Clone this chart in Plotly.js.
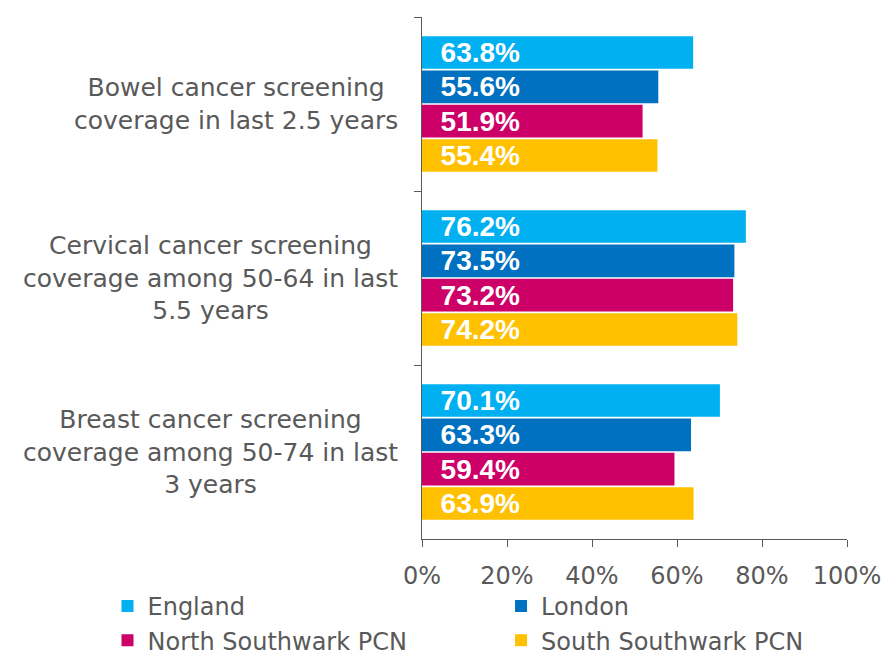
<!DOCTYPE html>
<html>
<head>
<meta charset="utf-8">
<script src="https://cdn.plot.ly/plotly-3.0.1.min.js"></script>
<style>html,body{margin:0;padding:0;background:#fff;}#chart{width:887px;height:659px;}</style>
</head>
<body>
<div id="chart"></div>
<script>
const categories = [
  'Bowel cancer screening<br>coverage in last 2.5 years',
  'Cervical cancer screening<br>coverage among 50-64 in last<br>5.5 years',
  'Breast cancer screening<br>coverage among 50-74 in last<br>3 years'
];
const seriesNames = ['England', 'London', 'North Southwark PCN', 'South Southwark PCN'];
const england = [63.8, 76.2, 70.1];
const london = [55.6, 73.5, 63.3];
const northSouthwark = [51.9, 73.2, 59.4];
const southSouthwark = [55.4, 74.2, 63.9];
const tickValues = [0, 20, 40, 60, 80, 100];
const tickLabels = ['0%', '20%', '40%', '60%', '80%', '100%'];

const colors = ['#00B0F0', '#0070C0', '#CC0066', '#FFC000'];
const seriesValues = [england, london, northSouthwark, southSouthwark];
const legendIds = ['legend', 'legend2', 'legend', 'legend2'];
const FONT = '"DejaVu Sans", "Liberation Sans", Arial, sans-serif';
const BAR_FONT = '"Liberation Sans", Arial, sans-serif';
const GREY = '#595959';

const traces = seriesValues.map((vals, i) => ({
  type: 'bar',
  orientation: 'h',
  name: seriesNames[i],
  x: vals,
  y: categories,
  marker: {color: colors[i]},
  texttemplate: '\u00a0\u00a0%{x:.1f}%',
  textposition: 'inside',
  insidetextanchor: 'start',
  constraintext: 'none',
  textfont: {family: BAR_FONT, size: 28, color: '#ffffff', weight: 'bold'},
  legend: legendIds[i],
  hoverinfo: 'skip'
}));

const annotations = categories.map(c => ({
  text: c,
  x: 0, xref: 'paper', xanchor: 'right', xshift: -22,
  y: c, yref: 'y', yanchor: 'middle',
  align: 'center',
  showarrow: false,
  font: {family: FONT, size: 25, color: GREY}
}));

const legendCommon = {
  orientation: 'v',
  font: {family: FONT, size: 24, color: GREY},
  bgcolor: 'rgba(0,0,0,0)',
  yanchor: 'top',
  xanchor: 'left',
  tracegroupgap: 0
};

const layout = {
  width: 887,
  height: 659,
  margin: {l: 422, r: 40, t: 17, b: 120, autoexpand: false},
  paper_bgcolor: '#ffffff',
  plot_bgcolor: '#ffffff',
  font: {family: FONT, color: GREY},
  barmode: 'group',
  bargap: 0.21,
  bargroupgap: 0.05,
  showlegend: true,
  xaxis: {
    range: [0, 100],
    tickvals: tickValues,
    ticktext: tickLabels,
    showgrid: false,
    zeroline: false,
    showline: true,
    linecolor: GREY,
    linewidth: 1,
    ticks: 'outside',
    ticklen: 7,
    tickcolor: GREY,
    ticklabelstandoff: 8,
    tickfont: {family: FONT, size: 24, color: GREY},
    fixedrange: true
  },
  yaxis: {
    type: 'category',
    range: [2.5, -0.5],
    showticklabels: false,
    showgrid: false,
    zeroline: false,
    showline: true,
    linecolor: GREY,
    linewidth: 1,
    ticks: 'outside',
    tickson: 'boundaries',
    ticklen: 7,
    tickcolor: GREY,
    fixedrange: true
  },
  legend: Object.assign({}, legendCommon, {x: -0.74, y: -0.086}),
  legend2: Object.assign({}, legendCommon, {x: 0.186, y: -0.086}),
  annotations: annotations
};

Plotly.newPlot('chart', traces, layout, {displayModeBar: false, staticPlot: true});
</script>
</body>
</html>
